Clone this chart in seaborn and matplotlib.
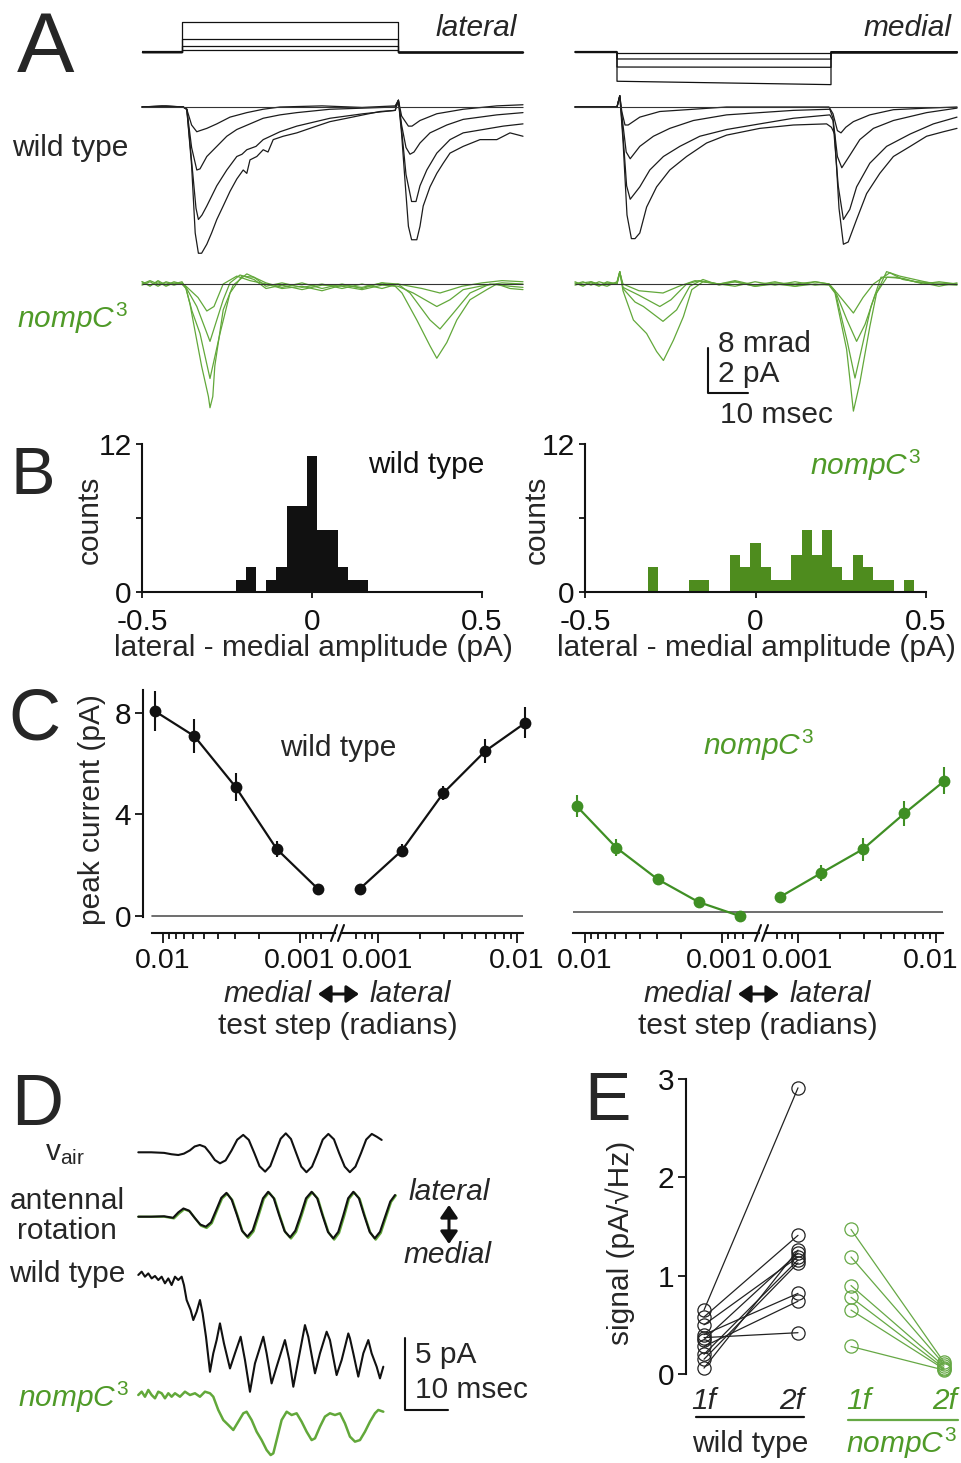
import numpy as np
import pandas as pd
import matplotlib
matplotlib.use("Agg")
import matplotlib.pyplot as plt
from matplotlib.lines import Line2D
from matplotlib.patches import FancyArrowPatch
from matplotlib.transforms import ScaledTranslation
from matplotlib.ticker import FixedLocator, FixedFormatter, NullFormatter
import seaborn as sns

# ======================= DATA =======================
# ---- Panel A: step stimuli (mrad) ----
A_LAT_STEP = (10.0, 64.0)          # ms, step on / off
A_MED_STEP = (10.5, 64.0)
A_LAT_END = 95.25
A_MED_END = 95.5
A_LAT_LEVELS = [0.36, 1.07, 2.3, 5.3]
A_MED_LEVELS = [-0.18, -1.24, -2.67, -5.2]
A_MED_LEVELS_END = [-0.18, -1.26, -2.72, -5.8]

# ---- Panel A: receptor currents (time ms, current pA) ----
A_WT_LAT = [
    [(0, 0), (5, 0.05), (10.3, 0), (11.2, -0.1), (12.4, -0.8), (13.7, -1.1), (14.5, -1.05), (16.2, -0.95),
     (18.7, -0.75), (22, -0.45), (26.2, -0.25), (30.3, -0.1), (34.5, 0), (45, 0.05), (55, -0.02), (63.3, 0.05),
     (64.1, 0.3), (64.9, -0.4), (66.6, -0.85), (67.5, -0.85), (69.5, -0.6), (73.7, -0.3), (80.3, -0.1),
     (88.7, 0.05), (95.25, 0.1)],
    [(0, 0), (10.3, 0), (11.2, -0.1), (12.4, -1.8), (13.7, -2.8), (14.5, -2.75), (16.2, -2.2), (18.7, -1.75),
     (21.2, -1.3), (23.7, -1.0), (27, -0.75), (30.3, -0.5), (34.5, -0.35), (38.7, -0.25), (47, -0.1),
     (55.3, -0.05), (63.3, 0), (64.1, 0.3), (64.9, -0.8), (66, -1.8), (67, -2.1), (68, -2.0), (69.5, -1.6),
     (72, -1.15), (76.2, -0.8), (80.3, -0.55), (84.5, -0.45), (88.7, -0.35), (95.25, -0.25)],
    [(0, 0), (10.3, 0), (11.2, -0.1), (12.4, -2.4), (13.5, -4.5), (14.1, -5.0), (15, -4.8), (16.2, -4.4),
     (18.7, -3.5), (21.2, -2.8), (23.7, -2.2), (25.0, -2.1), (26.2, -1.9), (28.5, -1.75), (30.3, -1.45),
     (34.5, -1.1), (38.7, -0.85), (47, -0.5), (55.3, -0.3), (63.3, -0.15), (64.1, 0.3), (64.9, -1.0),
     (66, -3.0), (67.4, -4.2), (68.5, -4.2), (69.5, -3.5), (71.2, -2.8), (73.7, -2.05), (77, -1.45),
     (80.3, -1.15), (85.3, -1.0), (90.3, -0.85), (95.25, -0.75)],
    [(0, 0), (6, 0.05), (10.3, 0), (11.2, -0.1), (12.4, -2.6), (13.3, -5.6), (14.1, -6.5), (14.9, -6.5),
     (16.2, -6.1), (17.4, -5.6), (18.7, -5.0), (20.3, -4.4), (22, -3.75), (23.7, -3.2), (25.3, -2.8),
     (26.2, -2.95), (27, -2.35), (28.7, -2.2), (30.3, -1.9), (31.5, -2.0), (32.8, -1.45), (35.3, -1.3),
     (38.7, -1.15), (42.8, -0.9), (47, -0.65), (51.2, -0.5), (55.3, -0.35), (59.5, -0.2), (63.3, -0.15),
     (64.1, 0.3), (64.9, -1.2), (65.8, -3.4), (66.6, -5.3), (67.4, -5.9), (68.7, -5.9), (69.5, -5.3),
     (70.3, -4.4), (72, -3.55), (73.7, -2.95), (75.3, -2.5), (77, -2.05), (80.3, -1.75), (84.5, -1.45),
     (88.7, -1.45), (92, -1.15), (95.25, -1.3)],
]
A_WT_MED = [
    [(0, 0), (10.5, 0), (11.2, 0.5), (11.7, -0.2), (12.5, -0.8), (13.3, -0.8), (16.2, -0.45), (21.2, -0.2),
     (29.6, -0.1), (37.9, 0), (63.5, 0), (64.5, -0.3), (65.6, -1.05), (66.5, -1.15), (67.7, -0.9),
     (69.6, -0.65), (73.7, -0.35), (79.6, -0.12), (87.9, -0.05), (95.5, 0)],
    [(0, 0), (10.5, 0), (11.2, 0.5), (11.8, -0.5), (12.8, -2.0), (13.8, -2.3), (16.2, -1.75), (19.6, -1.3),
     (23.7, -0.95), (29.6, -0.6), (37.9, -0.35), (46.2, -0.25), (54.6, -0.15), (63.7, -0.1), (64.5, -0.5),
     (65.6, -2.2), (66.7, -2.7), (68.7, -2.15), (71.2, -1.45), (74.6, -0.95), (79.6, -0.6), (87.9, -0.25),
     (95.5, -0.05)],
    [(0, 0), (10.5, 0), (11.2, 0.5), (11.9, -1.0), (12.9, -3.5), (13.8, -4.1), (16.2, -3.55), (18.7, -2.8),
     (22.1, -2.2), (26.2, -1.75), (31.2, -1.3), (37.9, -1.0), (46.2, -0.75), (54.6, -0.5), (63.7, -0.35),
     (64.5, -0.6), (65.8, -3.5), (67.1, -5.0), (68.7, -4.55), (70.4, -3.55), (73.7, -2.5), (77.9, -1.75),
     (83.8, -1.2), (89.6, -0.75), (95.5, -0.45)],
    [(0, 0), (10.5, 0), (11.2, 0.5), (12.0, -1.5), (13.0, -4.8), (14.1, -5.85), (15.0, -5.85), (16.2, -5.6),
     (17.9, -4.45), (20.4, -3.55), (23.7, -2.8), (27.9, -2.2), (32.9, -1.6), (37.9, -1.25), (46.2, -0.95),
     (54.6, -0.8), (62.9, -0.75), (64.1, -0.9), (64.9, -1.2), (66.0, -4.5), (67.1, -6.1), (68.3, -6.0),
     (70.4, -5.0), (72.9, -3.85), (76.2, -2.95), (79.6, -2.2), (83.8, -1.75), (87.9, -1.3), (92.1, -1.1),
     (95.5, -0.95)],
]
A_NOMPC_LAT = [
    [(0, 0.0), (2, 0.15), (4, 0.0), (6, 0.05), (8, -0.05), (10, 0.05), (11, -0.1), (14, -0.6), (16.2, -1.2),
     (18, -1.0), (20.3, 0.0), (23.7, 0.35), (27, 0.15), (31, 0.0), (35, -0.2), (40, -0.1), (45, -0.3),
     (50, -0.05), (55, -0.15), (60, 0.05), (64, 0.0), (70, -0.2), (74.5, -0.4), (80, -0.1), (85, 0.05),
     (90, 0.15), (95.25, 0.1)],
    [(0, 0.1), (2, -0.05), (4, 0.1), (6, -0.1), (8, 0.05), (10, 0.0), (11, -0.15), (13.7, -1.0), (17, -2.55),
     (20.3, -0.7), (22, 0.05), (24.5, 0.4), (28, 0.2), (31, -0.2), (35, -0.05), (40, -0.25), (45, -0.05),
     (50, -0.1), (55, -0.25), (60, -0.05), (64, -0.1), (67.8, -0.4), (73.7, -1.0), (77, -0.7), (80.3, -0.25),
     (84.5, -0.1), (90, 0.05), (95.25, 0.0)],
    [(0, -0.05), (2, 0.1), (4, -0.1), (6, 0.1), (8, 0.0), (10, 0.1), (11, -0.2), (12.5, -1.2), (14.5, -2.2),
     (17, -4.2), (18.5, -3.0), (19.5, -2.2), (22, -0.4), (25, 0.35), (28, 0.3), (31, -0.1), (35, 0.05),
     (40, -0.15), (45, 0.0), (50, -0.2), (55, 0.0), (60, -0.2), (64, 0.0), (67, -0.4), (72, -1.6),
     (74.5, -2.0), (77.8, -1.3), (82, -0.4), (87, 0.0), (92, -0.1), (95.25, -0.15)],
    [(0, 0.1), (2, -0.1), (4, 0.15), (6, -0.05), (8, 0.1), (10, 0), (11, -0.2), (12, -0.9), (14.9, -3.65),
     (16.6, -5.0), (17, -5.5), (17.7, -5.0), (18.2, -3.65), (20.3, -1.15), (22.8, -0.05), (26.2, 0.45),
     (28, 0.3), (31, 0.05), (35, -0.15), (40, 0.05), (45, -0.2), (50, 0.0), (55, -0.2), (60, 0.05),
     (63.3, -0.1), (65, -0.4), (68.7, -1.6), (72, -2.75), (73.7, -3.3), (76.2, -2.6), (78.7, -1.6),
     (82, -0.7), (86.2, -0.25), (88.7, 0.0), (92, -0.2), (95.25, -0.25)],
]
A_NOMPC_MED = [
    [(0, -0.05), (2, 0.05), (4, 0.1), (6, -0.05), (8, 0.05), (10.5, 0.0), (11.2, 0.5), (12, 0.0), (16, -0.3),
     (22, -0.4), (26, -0.1), (30, 0.15), (36, 0.0), (40, 0.1), (45, -0.1), (50, 0.0), (55, -0.1), (60, 0.1),
     (63.5, 0.0), (65.5, -0.4), (69.6, -1.29), (72, -0.6), (74.6, 0.0), (78.7, 0.5), (82, 0.2), (87, 0.05),
     (91, -0.1), (95.5, 0.05)],
    [(0, 0.1), (2, -0.05), (4, 0.05), (6, -0.1), (8, 0.1), (10.5, 0.0), (11.2, 0.55), (12, -0.15), (16, -0.5),
     (21.2, -1.0), (24, -0.7), (27.9, 0.0), (31, 0.15), (36, 0.0), (40, -0.1), (45, 0.1), (50, -0.05),
     (55, 0.1), (60, -0.05), (63.5, 0.0), (65.5, -0.5), (68, -1.6), (70.4, -2.55), (72.5, -1.8), (75, -0.5),
     (78, 0.3), (82, 0.25), (87, 0.0), (91, 0.1), (95.5, 0.0)],
    [(0, 0.0), (2, 0.1), (4, -0.05), (6, 0.1), (8, 0.0), (10.5, 0.05), (11.2, 0.55), (12, -0.2), (15, -0.8),
     (17.1, -1.0), (22, -1.66), (25.4, -1.15), (28.7, -0.1), (32, 0.2), (36, -0.05), (40, 0.1), (45, -0.1),
     (50, 0.05), (55, 0.0), (60, 0.1), (63.5, 0.0), (65, -0.3), (68, -2.5), (70, -4.18), (71.5, -3.0),
     (74, -1.0), (76.5, 0.3), (80, 0.3), (85, 0.1), (90, 0.05), (95.5, 0.0)],
    [(0, 0.05), (2, -0.1), (4, 0.1), (6, 0.0), (8, -0.1), (10.5, 0.1), (11.2, 0.55), (12, -0.3), (14.6, -1.6),
     (17.9, -2.2), (20.4, -3.0), (22.1, -3.4), (24.6, -2.5), (27.1, -1.45), (29.2, -0.25), (32, 0.1),
     (36, 0.0), (40, 0.15), (45, -0.05), (50, 0.1), (55, -0.1), (60, 0.0), (63.5, -0.05), (65, -0.4),
     (67.9, -2.9), (69.6, -5.65), (71.2, -4.4), (73.7, -1.9), (75.4, -0.4), (77.9, 0.55), (81.2, 0.35),
     (86.2, 0.15), (90, 0.0), (95.5, -0.05)],
]

# ---- Panel B: histograms of lateral - medial amplitude (pA) ----
B_BIN_WIDTH = 0.03
B_WT_CENTERS = [-0.21, -0.18, -0.12, -0.09, -0.06, -0.03, 0.00, 0.03, 0.06, 0.09, 0.12, 0.15]
B_WT_COUNTS = [1, 2, 1, 2, 7, 7, 11, 5, 5, 2, 1, 1]
B_NOMPC_CENTERS = [-0.30, -0.18, -0.15, -0.06, -0.03, 0.00, 0.03, 0.06, 0.09, 0.12, 0.15, 0.18,
                   0.21, 0.24, 0.27, 0.30, 0.33, 0.36, 0.39, 0.45]
B_NOMPC_COUNTS = [2, 1, 1, 3, 2, 4, 2, 1, 1, 3, 5, 3, 5, 2, 1, 3, 2, 1, 1, 1]

# ---- Panel C: peak current vs test step ----
C_STEPS = [0.00074, 0.00148, 0.00295, 0.0059, 0.0115]        # radians
C_WT_MED = [1.07, 2.64, 5.08, 7.08, 8.07]
C_WT_MED_SEM = [0.12, 0.30, 0.56, 0.68, 0.77]
C_WT_LAT = [1.07, 2.57, 4.84, 6.49, 7.61]
C_WT_LAT_SEM = [0.12, 0.26, 0.29, 0.46, 0.60]
C_NOMPC_MED = [-0.16, 0.39, 1.29, 2.53, 4.17]
C_NOMPC_MED_SEM = [0.10, 0.10, 0.12, 0.33, 0.44]
C_NOMPC_LAT = [0.59, 1.54, 2.47, 3.88, 5.16]
C_NOMPC_LAT_SEM = [0.10, 0.30, 0.46, 0.50, 0.53]

# ---- Panel D: sinusoidal stimulation (time ms) ----
D_VAIR = [(0, 0), (3, 0.0), (6, -0.03), (7.7, -0.1), (9.3, -0.14), (10.6, -0.07), (12.0, 0.1), (13.1, 0.3),
          (14.3, 0.38), (15.5, 0.28), (16.7, -0.05), (17.8, -0.4), (19.0, -0.57), (20.3, -0.42), (21.7, 0.1),
          (23.0, 0.65), (24.4, 0.90), (25.7, 0.64), (27.0, -0.05), (28.2, -0.72), (29.5, -1.0), (30.7, -0.71),
          (31.9, 0.0), (33.1, 0.70), (34.3, 0.98), (35.5, 0.69), (36.7, -0.03), (37.9, -0.74), (39.1, -1.03),
          (40.4, -0.74), (41.7, -0.04), (42.9, 0.66), (44.2, 0.95), (45.5, 0.67), (46.7, -0.04), (48.0, -0.74),
          (49.2, -1.03), (50.5, -0.74), (51.8, -0.04), (53.0, 0.66), (54.3, 0.95), (55.5, 0.8), (56.6, 0.64)]
D_ROT_WT = [(0, 0), (3, 0.0), (6, 0.02), (8.1, -0.05), (9.3, 0.2), (10.5, 0.38), (11.8, 0.28), (13.1, -0.05),
            (14.4, -0.36), (15.7, -0.46), (16.9, -0.26), (18.1, 0.3), (19.3, 0.87), (20.5, 1.1), (21.7, 0.79),
            (22.9, 0.1), (24.1, -0.64), (25.35, -0.92), (26.6, -0.63), (27.8, 0.1), (29.0, 0.85), (30.2, 1.15),
            (31.5, 0.85), (32.7, 0.1), (34.0, -0.66), (35.3, -0.95), (36.5, -0.65), (37.8, 0.1), (39.0, 0.85),
            (40.3, 1.15), (41.6, 0.85), (42.8, 0.08), (44.1, -0.7), (45.35, -1.0), (46.5, -0.7), (47.7, 0.08),
            (48.8, 0.85), (50.0, 1.15), (51.3, 0.85), (52.5, 0.08), (53.8, -0.7), (55.0, -1.0), (56.2, -0.7),
            (57.4, 0.0), (58.6, 0.7), (59.7, 1.0)]
D_ROT_NOMPC = [(0, 0), (3, 0.0), (6, 0.0), (8.3, -0.08), (9.5, 0.15), (10.7, 0.34), (12.0, 0.24), (13.3, -0.1),
               (14.6, -0.42), (15.9, -0.52), (17.1, -0.3), (18.3, 0.28), (19.5, 0.84), (20.7, 1.06), (21.9, 0.76),
               (23.1, 0.05), (24.3, -0.7), (25.55, -0.98), (26.8, -0.68), (28.0, 0.06), (29.2, 0.82), (30.4, 1.12),
               (31.7, 0.82), (32.9, 0.05), (34.2, -0.72), (35.5, -1.01), (36.7, -0.7), (38.0, 0.06), (39.2, 0.82),
               (40.5, 1.12), (41.8, 0.82), (43.0, 0.03), (44.3, -0.75), (45.55, -1.06), (46.7, -0.75), (47.9, 0.03),
               (49.0, 0.82), (50.2, 1.12), (51.5, 0.82), (52.7, 0.03), (54.0, -0.75), (55.2, -1.06), (56.4, -0.75),
               (57.6, -0.03), (58.8, 0.68), (59.9, 0.98)]
D_I_WT = [(0, 0.12), (0.78, 0.35), (1.55, 0), (2.33, 0.23), (3.1, -0.12), (3.88, 0.05), (4.65, -0.23), (5.43, 0),
          (6.2, -0.46), (6.98, -0.12), (7.75, -0.58), (8.53, 0), (9.3, -0.23), (10.08, 0), (10.62, -0.58),
          (11.24, -1.62), (12.17, -2.31), (12.79, -3.01), (13.57, -2.43), (14.34, -1.62), (14.96, -2.55),
          (15.74, -4.17), (16.67, -6.6), (17.44, -5.32), (18.22, -4.4), (18.99, -3.24), (19.92, -4.63),
          (21.32, -6.37), (22.48, -5.32), (23.8, -4.17), (24.81, -5.79), (25.97, -7.99), (27.13, -6.02),
          (29.07, -4.17), (29.84, -5.32), (31.0, -7.41), (32.17, -6.25), (34.1, -4.4), (35.12, -5.79),
          (36.05, -7.64), (37.21, -5.79), (38.76, -3.36), (39.53, -4.17), (41.09, -6.71), (42.25, -5.32),
          (43.8, -3.82), (44.57, -4.4), (46.12, -6.83), (47.29, -5.79), (48.84, -3.94), (49.22, -4.28),
          (50.0, -5.32), (51.16, -6.94), (52.33, -5.32), (53.49, -4.4), (54.26, -5.32), (55.43, -6.25),
          (56.2, -7.06), (56.98, -6.25)]
D_I_NOMPC = [(0, 0), (0.78, 0.23), (1.55, -0.12), (2.33, 0.35), (3.1, 0), (3.88, -0.23), (4.65, 0.23),
             (5.43, 0.12), (6.2, -0.23), (6.98, 0.12), (7.75, -0.12), (8.53, 0.12), (9.69, -0.12), (10.85, 0.23),
             (12.02, 0), (13.18, 0.12), (14.34, -0.12), (15.5, 0.23), (16.67, 0.12), (17.44, -0.12),
             (18.6, -1.04), (19.77, -1.74), (20.93, -2.08), (22.09, -2.43), (23.26, -1.85), (24.42, -1.27),
             (25.19, -1.16), (26.36, -1.74), (27.52, -2.55), (28.68, -3.13), (29.84, -3.82), (30.78, -4.17),
             (31.4, -4.05), (32.17, -3.13), (33.33, -1.74), (34.5, -1.16), (35.66, -1.39), (36.82, -1.27),
             (37.98, -1.85), (39.15, -2.55), (40.31, -3.13), (41.09, -3.01), (42.25, -2.2), (43.41, -1.5),
             (44.57, -1.27), (45.74, -1.39), (46.9, -1.27), (48.06, -1.97), (49.22, -2.89), (50.39, -3.24),
             (51.55, -3.13), (52.71, -2.55), (53.88, -1.85), (55.04, -1.27), (55.81, -1.04), (56.98, -1.16)]

# ---- Panel E: signal at 1f and 2f (pA/sqrt(Hz)) ----
E_WT_1F = [0.65, 0.58, 0.50, 0.40, 0.37, 0.35, 0.28, 0.20, 0.15, 0.06]
E_WT_2F = [2.91, 1.41, 1.19, 0.82, 0.42, 1.23, 0.74, 1.16, 1.13, 1.26]
E_NOMPC_1F = [1.47, 1.19, 0.90, 0.78, 0.65, 0.28]
E_NOMPC_2F = [0.12, 0.10, 0.08, 0.06, 0.05, 0.04]

# ======================= STYLE =======================
sns.set_theme(style="ticks")
plt.rcParams['font.family'] = ['Liberation Sans', 'DejaVu Sans']
plt.rcParams['mathtext.fontset'] = 'custom'
plt.rcParams['mathtext.rm'] = 'Liberation Sans'
plt.rcParams['mathtext.it'] = 'Liberation Sans:italic'
plt.rcParams['mathtext.default'] = 'regular'

FS = 21.5
FS_TICK_C = 20.5
BLACK = '#111111'
TRACE_K = '#1c1c1c'
GREEN_TXT = '#4f9a28'
GREEN_BAR = '#4e8c1e'
GREEN_TRACE = '#62a83a'
GREEN_C = '#3f8f24'
GREEN_E = '#66a845'
NOMPC = r'$\mathit{nompC}^{3}$'

W, H = 961, 1463
fig = plt.figure(figsize=(W / 100, H / 100), dpi=100)


def add_ax(l, t, r, b):
    ax = fig.add_axes([l / W, 1 - b / H, (r - l) / W, (b - t) / H])
    ax.set_facecolor('none')
    return ax


def ftext(x, y, s, **kw):
    kw.setdefault('fontsize', FS)
    kw.setdefault('ha', 'center')
    kw.setdefault('va', 'center')
    fig.text(x / W, 1 - y / H, s, **kw)


def fline(x1, y1, x2, y2, color=BLACK, lw=1.5):
    fig.add_artist(Line2D([x1 / W, x2 / W], [1 - y1 / H, 1 - y2 / H], color=color, lw=lw,
                          transform=fig.transFigure))


def farrow(x1, y1, x2, y2):
    fig.add_artist(FancyArrowPatch((x1 / W, 1 - y1 / H), (x2 / W, 1 - y2 / H), transform=fig.transFigure,
                                   arrowstyle='<|-|>,head_length=7.5,head_width=5.2', color=BLACK, lw=2.2,
                                   mutation_scale=1, shrinkA=0, shrinkB=0))


def trace(ax, pts, color, lw=0.9):
    t = [p[0] for p in pts]
    v = [p[1] for p in pts]
    sns.lineplot(x=t, y=v, ax=ax, color=color, linewidth=lw, estimator=None, sort=False, legend=False)


def clean(ax):
    ax.set_axis_off()


# ======================= PANEL A =======================
for (l, r, levels, levels_end, step, tend, lab, labx) in [
        (130, 530, A_LAT_LEVELS, A_LAT_LEVELS, A_LAT_STEP, A_LAT_END, 'lateral', 476),
        (563, 961, A_MED_LEVELS, A_MED_LEVELS_END, A_MED_STEP, A_MED_END, 'medial', 907)]:
    xl = (-3, -3 + (r - l) / 4.0)
    ax_s = add_ax(l, 10, r, 95)
    for lv, le in zip(levels, levels_end):
        stim = [(0, 0), (step[0], 0), (step[0], lv), (step[1], le), (step[1], 0), (tend, 0)]
        trace(ax_s, stim, BLACK, 0.9)
    ax_s.hlines(0, 0, step[0], color=BLACK, lw=1.6)
    ax_s.hlines(0, step[1], tend, color=BLACK, lw=1.8)
    ax_s.set_xlim(*xl)
    ax_s.set_ylim(-(95 - 52) / 5.625, (52 - 10) / 5.625)
    clean(ax_s)
    ftext(labx, 28, lab, style='italic')

ax_wl = add_ax(130, 90, 530, 265)
ax_wm = add_ax(563, 90, 961, 265)
ax_nl = add_ax(130, 262, 530, 420)
ax_nm = add_ax(563, 262, 961, 420)
for ax, data, col, tend in [(ax_wl, A_WT_LAT, TRACE_K, A_LAT_END), (ax_wm, A_WT_MED, TRACE_K, A_MED_END),
                            (ax_nl, A_NOMPC_LAT, GREEN_TRACE, A_LAT_END),
                            (ax_nm, A_NOMPC_MED, GREEN_TRACE, A_MED_END)]:
    ax.hlines(0, 0, tend, color='#333333', lw=0.8, zorder=5)
    for tr in data:
        trace(ax, tr, col, 0.9)
for ax, r, l in [(ax_wl, 530, 130), (ax_wm, 961, 563), (ax_nl, 530, 130), (ax_nm, 961, 563)]:
    ax.set_xlim(-3, -3 + (r - l) / 4.0)
for ax in (ax_wl, ax_wm):
    ax.set_ylim(-(265 - 107) / 22.5, (107 - 90) / 22.5)
for ax in (ax_nl, ax_nm):
    ax.set_ylim(-(420 - 284) / 22.5, (284 - 262) / 22.5)
# scale bar: 2 pA (8 mrad), 10 ms
ax_nm.plot([33.25, 33.25, 43.25], [-2.84, -4.84, -4.84], color=BLACK, lw=1.5, clip_on=False)
for ax in (ax_wl, ax_wm, ax_nl, ax_nm):
    clean(ax)
ftext(718, 344, '8 mrad', ha='left')
ftext(718, 374, '2 pA', ha='left')
ftext(720, 415, '10 msec', ha='left')
ftext(70, 148, 'wild type')
ftext(72, 318, NOMPC, color=GREEN_TXT)
fig.text(17 / W, 1 - 72 / H, 'A', fontsize=62, ha='left', va='baseline')

# ======================= PANEL B =======================
for (l, r, centers, counts, col, lab, labx, labc, cx) in [
        (142, 482, B_WT_CENTERS, B_WT_COUNTS, BLACK, 'wild type', 426, BLACK, 90),
        (585, 926, B_NOMPC_CENTERS, B_NOMPC_COUNTS, GREEN_BAR, NOMPC, 865, GREEN_TXT, 537)]:
    ax = add_ax(l, 444, r, 592)
    sns.histplot(x=centers, weights=counts, binwidth=B_BIN_WIDTH, binrange=(-0.345, 0.495),
                 color=col, alpha=1, edgecolor='none', linewidth=0, ax=ax)
    ax.set_xlim(-0.5, 0.5)
    ax.set_ylim(0, 12)
    ax.set_ylabel('')
    ax.set_xlabel('')
    ax.set_yticks([0, 6, 12])
    ax.set_yticklabels(['0', '', '12'])
    ax.set_xticks([-0.5, 0, 0.5])
    ax.set_xticklabels(['-0.5', '0', '0.5'])
    for s in ('top', 'right'):
        ax.spines[s].set_visible(False)
    for s in ('left', 'bottom'):
        ax.spines[s].set_linewidth(1.5)
        ax.spines[s].set_color(BLACK)
    ax.tick_params(direction='out', length=4.5, width=1.3, labelsize=FS, pad=3, colors=BLACK)
    ax.tick_params(axis='x', pad=7)
    ftext(labx, 465, lab, color=labc)
    ftext(cx, 520, 'counts', rotation=90)
    ftext((l + r) / 2 + 1, 648, 'lateral - medial amplitude (pA)')
fig.text(10 / W, 1 - 494 / H, 'B', fontsize=48, ha='left', va='baseline')


# ======================= PANEL C =======================
def c_logaxis(ax):
    ax.set_xscale('log')
    ax.xaxis.set_major_locator(FixedLocator([0.001, 0.01]))
    ax.xaxis.set_major_formatter(FixedFormatter(['0.001', '0.01']))
    ax.xaxis.set_minor_locator(FixedLocator([0.0007, 0.0008, 0.0009] + [k * 0.001 for k in range(2, 10)]))
    ax.xaxis.set_minor_formatter(NullFormatter())
    ax.tick_params(axis='x', which='major', direction='out', length=7.5, width=1.3, labelsize=FS_TICK_C,
                   pad=3, colors=BLACK)
    ax.tick_params(axis='x', which='minor', direction='out', length=4.5, width=1.3, colors=BLACK)
    ax.set_yticks([])
    for s in ('top', 'right', 'left'):
        ax.spines[s].set_visible(False)
    ax.spines['bottom'].set_linewidth(1.5)
    ax.spines['bottom'].set_color(BLACK)


def c_series(ax, xs, ys, sem, col):
    sns.lineplot(x=xs, y=ys, ax=ax, color=col, linewidth=1.6, marker='o', markersize=8.5,
                 markeredgecolor=col, markeredgewidth=0, estimator=None, sort=False, legend=False)
    ax.errorbar(xs, ys, yerr=sem, fmt='none', ecolor=col, elinewidth=1.5, capsize=0)
    for art in ax.lines + ax.collections:
        art.set_clip_on(False)
    ax.set_xlabel('')
    ax.set_ylabel('')


PX_PER_PA = 25.4
# left (wild type)
axY = add_ax(143, 690, 523, 917)
axY.set_xlim(0, 1)
axY.set_ylim(-1 / PX_PER_PA, 226 / PX_PER_PA)
axY.axhline(0, xmin=(152 - 143) / 380, xmax=1, color='#555555', lw=1.2)
axY.set_xticks([])
axY.set_yticks([0, 4, 8])
for s in ('top', 'right', 'bottom'):
    axY.spines[s].set_visible(False)
axY.spines['left'].set_linewidth(1.5)
axY.spines['left'].set_color(BLACK)
axY.tick_params(axis='y', direction='out', length=5.5, width=1.3, labelsize=FS, pad=3, colors=BLACK)

ylim_c1 = (-17 / PX_PER_PA, 226 / PX_PER_PA)
axL = add_ax(152, 690, 335, 933)
c_logaxis(axL)
c_series(axL, C_STEPS, C_WT_MED, C_WT_MED_SEM, BLACK)
axL.set_xlim(0.01203, 0.000555)
axL.set_ylim(*ylim_c1)
axR = add_ax(341, 690, 523, 933)
c_logaxis(axR)
c_series(axR, C_STEPS, C_WT_LAT, C_WT_LAT_SEM, BLACK)
axR.set_xlim(0.000542, 0.01104)
axR.set_ylim(*ylim_c1)

# right (nompC)
axY2 = add_ax(573, 690, 943, 913)
axY2.set_xlim(0, 1)
axY2.set_ylim(-1 / PX_PER_PA, 222 / PX_PER_PA)
axY2.axhline(0, color='#555555', lw=1.2)
axY2.set_axis_off()
ylim_c2 = (-21 / PX_PER_PA, 222 / PX_PER_PA)
axL2 = add_ax(573, 690, 759, 933)
c_logaxis(axL2)
c_series(axL2, C_STEPS, C_NOMPC_MED, C_NOMPC_MED_SEM, GREEN_C)
axL2.set_xlim(0.01223, 0.000537)
axL2.set_ylim(*ylim_c2)
axR2 = add_ax(765, 690, 943, 933)
c_logaxis(axR2)
c_series(axR2, C_STEPS, C_NOMPC_LAT, C_NOMPC_LAT_SEM, GREEN_C)
axR2.set_xlim(0.000577, 0.01124)
axR2.set_ylim(*ylim_c2)
# keep the last "0.01" label inside the figure, as in the reference
for tl in axR2.get_xticklabels():
    if tl.get_text() == '0.01':
        tl.set_transform(tl.get_transform() + ScaledTranslation(-5 / 100, 0, fig.dpi_scale_trans))

# axis breaks
for bx in (338, 762):
    fline(bx - 7, 941, bx - 1, 925, lw=1.5)
    fline(bx, 941, bx + 6, 925, lw=1.5)

ftext(92, 810, 'peak current (pA)', rotation=90)
ftext(338, 748, 'wild type')
ftext(758, 745, NOMPC, color=GREEN_TXT)
for cx in (338, 758):
    ftext(cx - 27, 994, 'medial', style='italic', ha='right')
    ftext(cx + 32, 994, 'lateral', style='italic', ha='left')
    farrow(cx - 20, 994, cx + 21, 994)
    ftext(cx, 1026, 'test step (radians)')
fig.text(8 / W, 1 - 740 / H, 'C', fontsize=52, ha='left', va='baseline')

# ======================= PANEL D =======================
xl_d = ((130 - 138.3) / 4.3, (460 - 138.3) / 4.3)
ax_v = add_ax(130, 1130, 460, 1175)
trace(ax_v, D_VAIR, BLACK, 1.5)
ax_v.set_ylim(-(1175 - 1152.3) / 19.33, (1152.3 - 1130) / 19.33)
ax_r = add_ax(130, 1180, 460, 1245)
trace(ax_r, D_ROT_NOMPC, GREEN_TRACE, 1.6)
trace(ax_r, D_ROT_WT, BLACK, 1.5)
ax_r.set_ylim(-(1245 - 1216.7) / 21.67, (1216.7 - 1180) / 21.67)
ax_dw = add_ax(130, 1250, 460, 1420)
trace(ax_dw, D_I_WT, BLACK, 1.5)
ax_dw.set_ylim(-(1420 - 1276.7) / 14.4, (1276.7 - 1250) / 14.4)
ax_dw.plot([62.0, 62.0, 72.0], [-4.26, -9.26, -9.26], color=BLACK, lw=1.5, clip_on=False)
ax_dn = add_ax(130, 1380, 460, 1460)
trace(ax_dn, D_I_NOMPC, GREEN_TRACE, 1.8)
ax_dn.set_ylim(-(1460 - 1395) / 14.4, (1395 - 1380) / 14.4)
for ax in (ax_v, ax_r, ax_dw, ax_dn):
    ax.set_xlim(*xl_d)
    clean(ax)

ftext(65, 1153, r'v$_{air}$')
ftext(67, 1201, 'antennal')
ftext(67, 1231, 'rotation')
ftext(67, 1274, 'wild type')
ftext(73, 1397, NOMPC, color=GREEN_TXT)
ftext(449, 1192, 'lateral', style='italic')
ftext(448, 1255, 'medial', style='italic')
farrow(449, 1205, 449, 1244)
ftext(415, 1355, '5 pA', ha='left')
ftext(415, 1390, '10 msec', ha='left')
fig.text(11 / W, 1 - 1125 / H, 'D', fontsize=52, ha='left', va='baseline')

# ======================= PANEL E =======================
E_POS_WT = (0.0, 1.0)
E_POS_NOMPC = (1.564, 2.553)
ax_e = add_ax(686, 1079, 961, 1374)
rows = []
for i, (a, b) in enumerate(zip(E_WT_1F, E_WT_2F)):
    rows += [dict(pair=i, pos=E_POS_WT[0], signal=a), dict(pair=i, pos=E_POS_WT[1], signal=b)]
df_wt = pd.DataFrame(rows)
rows = []
for i, (a, b) in enumerate(zip(E_NOMPC_1F, E_NOMPC_2F)):
    rows += [dict(pair=i, pos=E_POS_NOMPC[0], signal=a), dict(pair=i, pos=E_POS_NOMPC[1], signal=b)]
df_np = pd.DataFrame(rows)
for df, col in [(df_wt, '#222222'), (df_np, GREEN_E)]:
    sns.lineplot(data=df, x='pos', y='signal', units='pair', estimator=None, sort=False, ax=ax_e,
                 color=col, linewidth=0.9, marker='o', markersize=9.5, markerfacecolor='none',
                 markeredgecolor=col, markeredgewidth=0.9, legend=False)
for art in ax_e.lines:
    art.set_clip_on(False)
ax_e.set_xlim((686 - 704) / 94, (961 - 704) / 94)
ax_e.set_ylim(0, 3)
ax_e.set_xlabel('')
ax_e.set_ylabel('')
ax_e.set_xticks([])
ax_e.set_yticks([0, 1, 2, 3])
for s in ('top', 'right', 'bottom'):
    ax_e.spines[s].set_visible(False)
ax_e.spines['left'].set_linewidth(1.5)
ax_e.spines['left'].set_color(BLACK)
ax_e.tick_params(axis='y', direction='out', length=5.5, width=1.3, labelsize=FS, pad=3, colors=BLACK)
ftext(620, 1243, 'signal (pA/\u221aHz)', rotation=90)
ftext(704, 1401, '1f', style='italic')
ftext(792, 1401, '2f', style='italic')
ftext(859, 1401, '1f', style='italic', color=GREEN_TXT)
ftext(945, 1401, '2f', style='italic', color=GREEN_TXT)
fline(696, 1417, 804, 1417, color=BLACK, lw=1.6)
fline(848, 1420, 958, 1420, color=GREEN_E, lw=1.6)
ftext(750, 1444, 'wild type')
ftext(901, 1443, NOMPC, color=GREEN_TXT)
fig.text(584 / W, 1 - 1120 / H, 'E', fontsize=50, ha='left', va='baseline')

fig.savefig('out.png', dpi=100)
